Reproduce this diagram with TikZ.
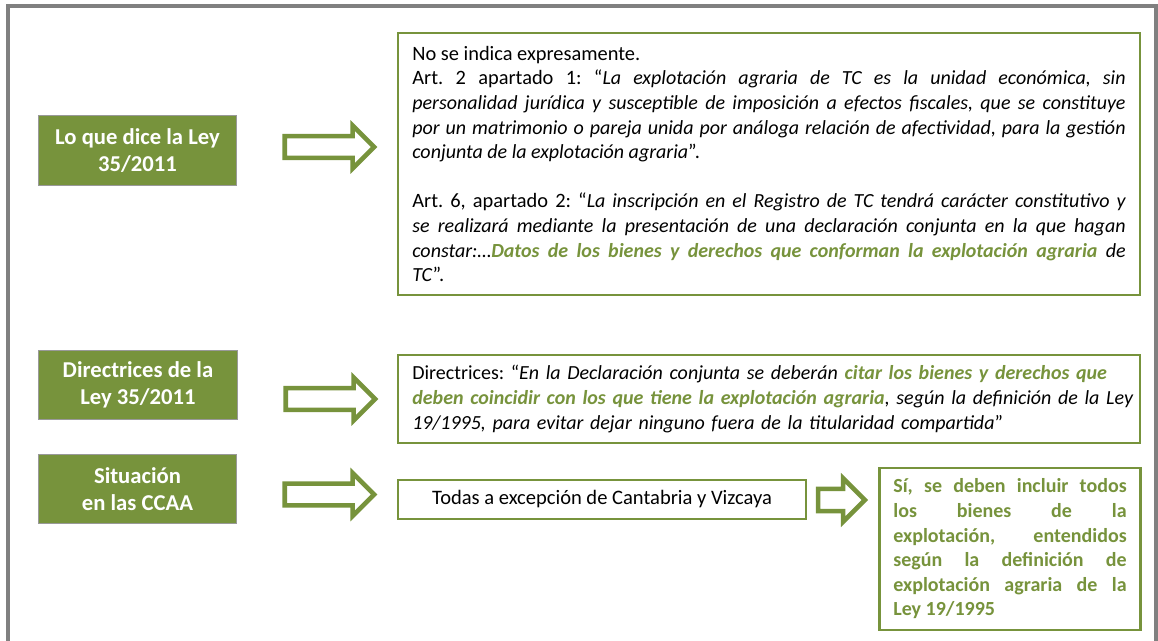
\documentclass[tikz,border=0pt]{standalone}
\usepackage{fontspec}
\setmainfont{Carlito}
\usetikzlibrary{shapes.arrows}
\definecolor{leygreen}{RGB}{119,147,60}
\definecolor{framegray}{RGB}{128,128,128}
\newcommand{\resalta}[1]{\textcolor{leygreen}{\bfseries\itshape #1}}
\hyphenpenalty=10000
\exhyphenpenalty=10000
\frenchspacing

\begin{document}
\begin{tikzpicture}[x=0.75pt,y=-0.75pt,
      law/.style={draw=black!40,line width=0.8pt,fill=leygreen,text=white,
        align=center,minimum width=149pt,minimum height=52pt,inner sep=2pt,
        font=\fontsize{17}{20.7}\selectfont\bfseries},
      quote/.style={draw=leygreen,line width=2pt,fill=white,inner xsep=10.5pt,
        inner ysep=2pt,font=\fontsize{15}{18.45}\selectfont},
      arr/.style={single arrow,draw=leygreen,line width=3.4pt,fill=white,
        line join=miter,single arrow tip angle=90,inner xsep=0pt,
        inner ysep=6.4pt,single arrow head extend=8pt,
        minimum height=67pt},
      frame/.style={draw=framegray,line width=3.6pt}
    ]
    \useasboundingbox (0,0) rectangle (1158,641);
    % outer frame, open at the bottom
    \draw[frame] (8,660) |- (1156,6) -- (1156,660);
    % left column
    \node[law] (L1) at (137.5,150.5) {Lo que dice la Ley\\35/2011};
    \node[law] (L2) at (138,385) {Directrices de la\\Ley 35/2011};
    \node[law] (L3) at (137.5,489) {Situación\\en las CCAA};
    % block arrows
    \node[arr] (a1) at (324,147) {};
    \node[arr] (a2) at (325,399) {};
    \node[arr] (a3) at (324,494.5) {};
    \node[arr,inner ysep=6.6pt,single arrow head extend=8pt,
      minimum height=35pt] (a4) at (836,500) {};
    % what the law says
    \node[quote,text width=535pt,minimum width=556.5pt,minimum height=196.5pt,
      align=justify] (Q1) at (769,164)
      {\fontsize{15.3}{18.45}\selectfont No se indica expresamente.\par
       Art. 2 apartado 1: “\textit{\fontsize{15}{18.45}\selectfont La
       explotación agraria de TC es la unidad
       económica, sin\linebreak personalidad jurídica y susceptible de
       imposición a efectos fiscales, que se constituye\linebreak por un
       matrimonio o pareja unida por análoga relación de afectividad, para la
       gestión\linebreak conjunta de la explotación agraria}”.\par
       \null\par
       Art. 6, apartado 2: “\textit{\fontsize{15}{18.45}\selectfont La
       inscripción en el Registro de TC
       tendrá carácter constitutivo y\linebreak se realizará mediante la
       presentación de una declaración conjunta en la que hagan\linebreak
       constar:…\resalta{Datos de los bienes y derechos que conforman la
       explotación agraria} de\linebreak TC}”.};
    % guidelines
    \node[quote,text width=535pt,minimum width=556.5pt,minimum height=66pt,
      align=left] (Q2) at (769,399)
      {Directrices: “\textit{En la Declaración conjunta se deberán
       \resalta{citar los bienes y derechos que}}\\
       \mbox{\textit{\resalta{deben coincidir con los que tiene la explotación
       agraria}, según la definición de la Ley}}\\
       \textit{19/1995, para evitar dejar ninguno fuera de la titularidad
       compartida}”};
    % regions
    \node[quote,minimum width=306pt,minimum height=29.25pt,
      font=\fontsize{15.4}{18.45}\selectfont] (Q3) at (602,499.5)
      {Todas a excepción de Cantabria y Vizcaya};
    \node[quote,text width=175pt,minimum width=195pt,minimum height=121.5pt,
      align=justify,text=leygreen,font=\fontsize{15}{18.45}\selectfont\bfseries]
      (Q4) at (1010,549)
      {Sí, se deben incluir todos\linebreak los bienes de la\linebreak
       explotación, entendidos\linebreak según la definición de\linebreak
       explotación agraria de la\linebreak Ley 19/1995};
  \end{tikzpicture}
\end{document}
